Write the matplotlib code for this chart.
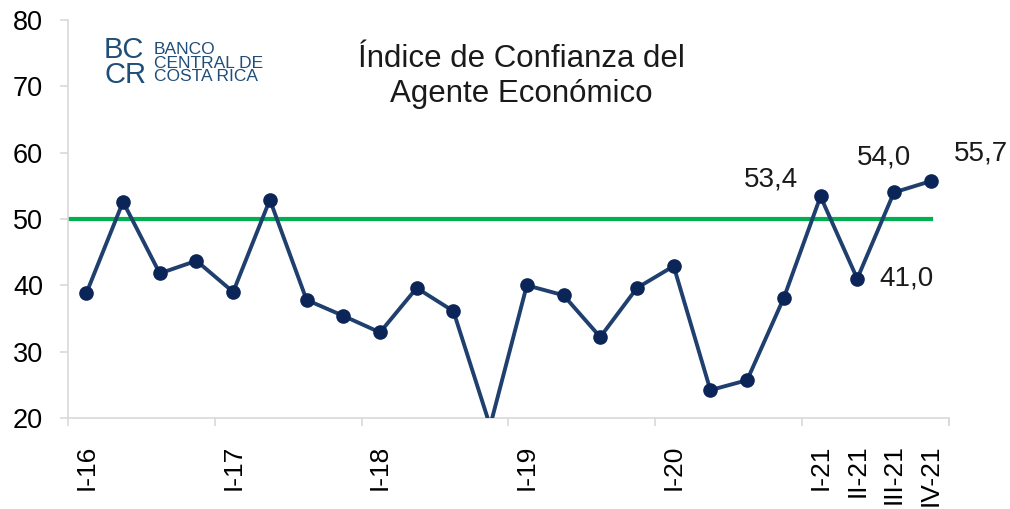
import matplotlib.pyplot as plt
import numpy as np

plt.rcParams['font.family'] = ['Liberation Sans', 'DejaVu Sans']

quarters = ['I-16', 'II-16', 'III-16', 'IV-16',
            'I-17', 'II-17', 'III-17', 'IV-17',
            'I-18', 'II-18', 'III-18', 'IV-18',
            'I-19', 'II-19', 'III-19', 'IV-19',
            'I-20', 'II-20', 'III-20', 'IV-20',
            'I-21', 'II-21', 'III-21', 'IV-21']
icae = [38.8, 52.6, 41.8, 43.7,
        39.0, 52.9, 37.8, 35.4,
        32.9, 39.6, 36.1, 18.8,
        40.0, 38.5, 32.2, 39.6,
        42.9, 24.2, 25.7, 38.1,
        53.4, 41.0, 54.0, 55.7]
umbral = 50
shown_labels = ['I-16', 'I-17', 'I-18', 'I-19', 'I-20', 'I-21', 'II-21', 'III-21', 'IV-21']
annotated = {'I-21': (-50, 17), 'II-21': (49, 0), 'III-21': (-10, 35), 'IV-21': (50, 28)}
logo_lines = ['BANCO', 'CENTRAL DE', 'COSTA RICA']

navy = '#1f3f6e'
grey = '#d9d9d9'

fig = plt.figure(figsize=(10.1, 5.09), dpi=100)
ax = fig.add_axes([0.0673, 0.1788, 0.8723, 0.7819])

x = np.arange(len(quarters))
ax.plot([-0.5, len(quarters) - 1], [umbral, umbral], color='#00b050', lw=3, zorder=2)
ax.plot(x, icae, color=navy, lw=2.8, marker='o', ms=9.5,
        mfc='#0b2559', mec='#0b2559', zorder=3)

for q, (dx, dy) in annotated.items():
    i = quarters.index(q)
    ax.annotate(f'{icae[i]:.1f}'.replace('.', ','), (i, icae[i]),
                xytext=(dx, dy), textcoords='offset pixels',
                ha='center', va='center', fontsize=20, color='#1a1a1a')

ax.set_xlim(-0.5, len(quarters) - 0.5)
ax.set_ylim(20, 80)
ax.set_yticks(range(20, 81, 10))

# ticks sit on year boundaries, labels on category centres
ax.set_xticks(list(np.arange(-0.5, 24, 4)) + [23.5])
ax.set_xticklabels([])
ax.set_xticks([quarters.index(q) for q in shown_labels], minor=True)
ax.set_xticklabels(shown_labels, minor=True, rotation=90, fontsize=19)
ax.tick_params(axis='x', which='minor', length=0, pad=19)
ax.tick_params(axis='x', which='major', length=6, color=grey, width=1.2)
ax.tick_params(axis='y', length=6, color=grey, width=1.2, labelsize=19.5, pad=12)

for s in ['top', 'right']:
    ax.spines[s].set_visible(False)
for s in ['left', 'bottom']:
    ax.spines[s].set_color(grey)
    ax.spines[s].set_linewidth(1.2)

fig.text(0.516, 0.850, 'Índice de Confianza del\nAgente Económico', ha='center', va='center',
         fontsize=22.5, color='#1a1a1a', linespacing=1.2)

# logo
logo = '#1f4e79'
fig.text(0.103, 0.878, 'BC\nCR', fontsize=21, color=logo, va='center', ha='left',
         linespacing=0.86)
fig.text(0.152, 0.876, '\n'.join(logo_lines), fontsize=12.5, color=logo,
         va='center', ha='left', linespacing=0.86)

fig.savefig('out.png', dpi=100)
